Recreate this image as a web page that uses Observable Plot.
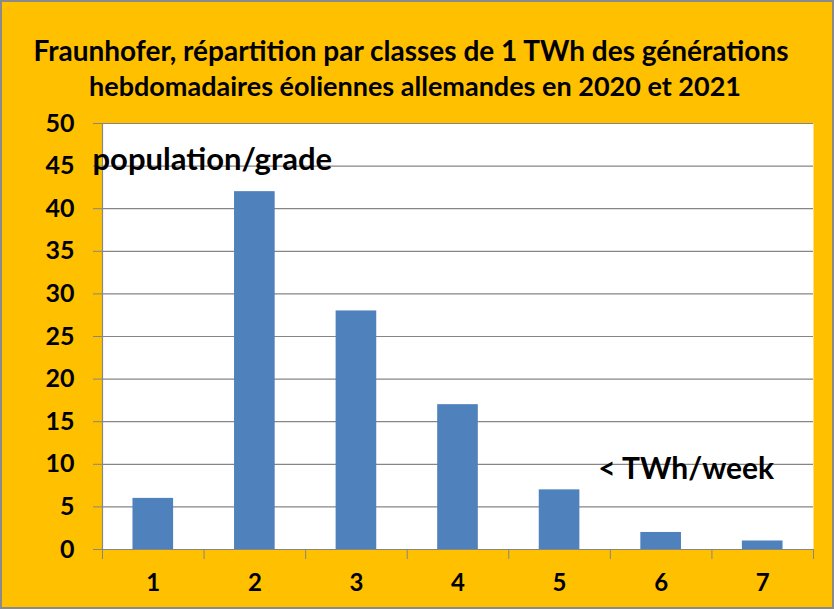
<!DOCTYPE html>
<html>
<head>
<meta charset="utf-8">
<script src="https://cdn.jsdelivr.net/npm/d3@7"></script>
<script src="https://cdn.jsdelivr.net/npm/@observablehq/plot@0.6"></script>
<style>
  html, body { margin: 0; padding: 0; background: #FFC000; }
  #chart svg { display: block; outline: 2px solid #8a8a8a; outline-offset: -2px; }
</style>
</head>
<body>
<div id="chart"></div>
<script>
const classes = [1, 2, 3, 4, 5, 6, 7];
const counts = [6, 42, 28, 17, 7, 2, 1];
const yTicks = [0, 5, 10, 15, 20, 25, 30, 35, 40, 45, 50];
const titleLines = [
  "Fraunhofer, répartition par classes de 1 TWh des générations",
  "hebdomadaires éoliennes allemandes en 2020 et 2021"
];
const yLabel = "population/grade";
const xLabel = "< TWh/week";

const data = classes.map((c, i) => ({c, v: counts[i]}));
const boundaries = d3.range(classes.length + 1).map(i => classes[0] - 0.5 + i);
const font = "Lato, 'Open Sans', sans-serif";

const chart = Plot.plot({
  width: 834,
  height: 609,
  marginLeft: 102,
  marginRight: 21,
  marginTop: 123,
  marginBottom: 60,
  style: {background: "#FFC000", fontFamily: font, color: "#000", overflow: "visible"},
  x: {type: "linear", domain: [0.5, 7.5]},
  y: {domain: [0, 50]},
  marks: [
    Plot.frame({fill: "white", stroke: null}),
    Plot.gridY(yTicks, {stroke: "#868686", strokeOpacity: 1, strokeWidth: 1.2}),
    Plot.rectY(data, {x1: d => d.c - 0.2, x2: d => d.c + 0.2, y: "v", fill: "#4F81BD"}),
    Plot.ruleX([0.5], {stroke: "#868686", strokeWidth: 1.2}),
    Plot.ruleY([0], {stroke: "#868686", strokeWidth: 1.2}),
    Plot.axisY({ticks: yTicks, tickSize: 9, tickPadding: 19, stroke: "#868686", fontSize: 25, fontWeight: "bold", label: null, fill: "black"}),
    Plot.axisX({ticks: boundaries, tickSize: 10, tickFormat: () => "", stroke: "#868686", label: null}),
    Plot.axisX({ticks: classes, tickSize: 0, tickPadding: 24, fontSize: 24, fontWeight: "bold", label: null, fill: "black", tickFormat: d => String(d)}),
    Plot.text([titleLines[0]], {frameAnchor: "top", dx: -47, dy: -82, fontSize: 28, fontWeight: "bold", fill: "black", text: d => d}),
    Plot.text([titleLines[1]], {frameAnchor: "top", dx: -43, dy: -47, fontSize: 27, fontWeight: "bold", fill: "black", text: d => d}),
    Plot.text([yLabel], {frameAnchor: "top-left", dx: -10, dy: 24, fontSize: 31, fontWeight: "bold", fill: "black", textAnchor: "start", text: d => d}),
    Plot.text([xLabel], {x: 5.38, y: 9.4, fontSize: 30, fontWeight: "bold", fill: "black", textAnchor: "start", text: d => d})
  ]
});
document.getElementById("chart").append(chart);
</script>
</body>
</html>
